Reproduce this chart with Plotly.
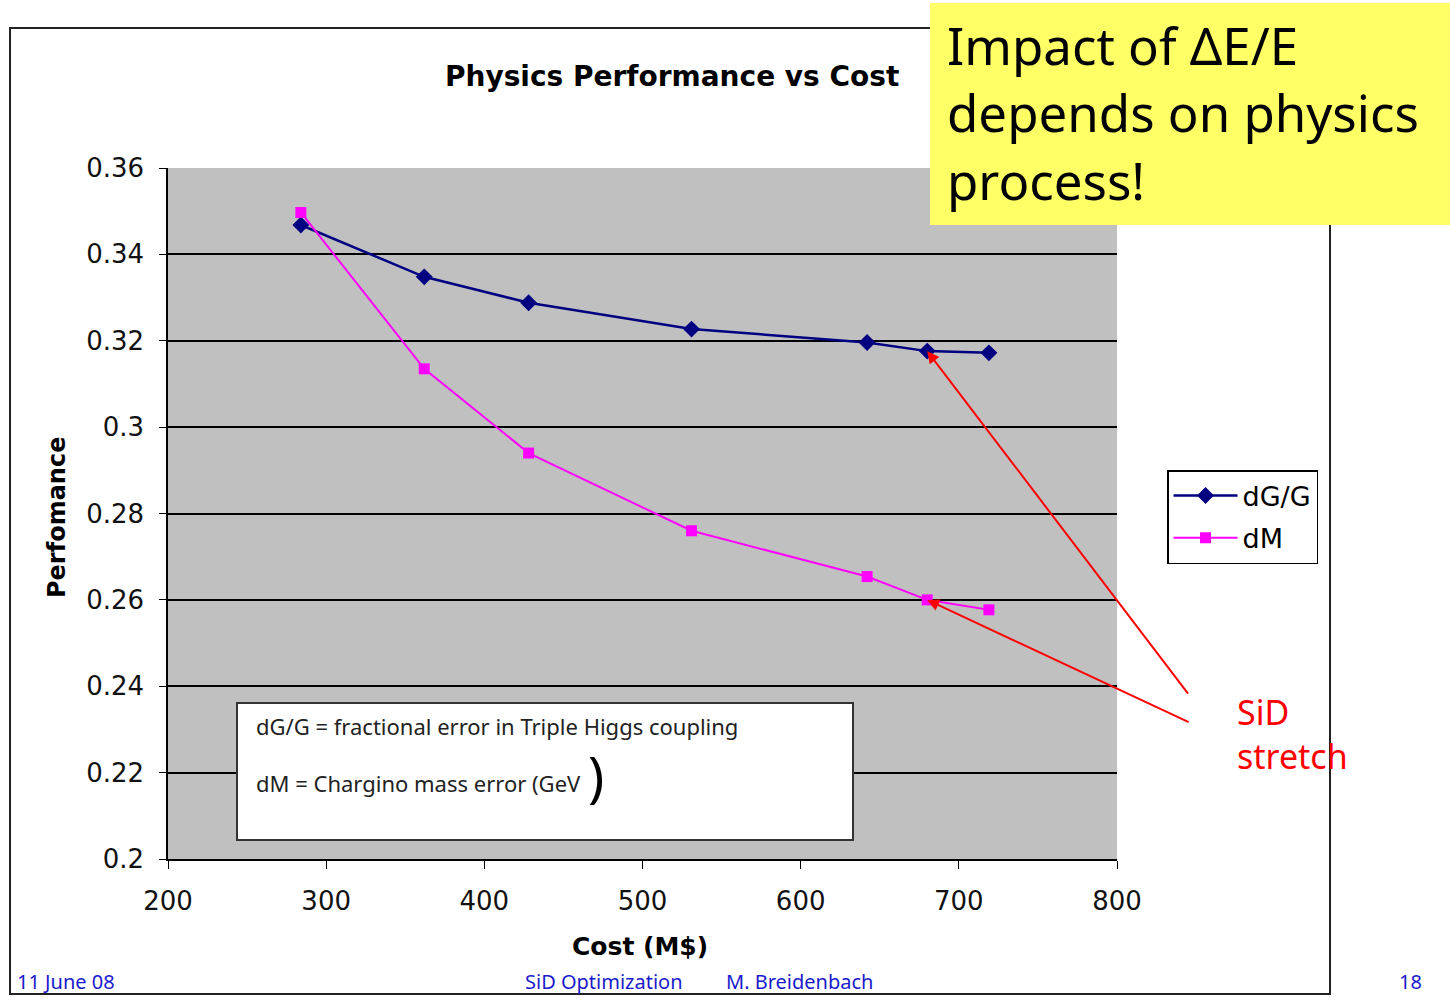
import plotly.graph_objects as go

# ---- data ----
cost = [284, 362, 428, 531, 642, 680, 719]
dG_G = [0.3468, 0.3348, 0.3288, 0.3227, 0.3196, 0.3176, 0.3172]
dM = [0.3497, 0.3135, 0.2940, 0.2760, 0.2654, 0.2600, 0.2577]
y_ticks = [0.2, 0.22, 0.24, 0.26, 0.28, 0.3, 0.32, 0.34, 0.36]
y_tick_text = ["0.2", "0.22", "0.24", "0.26", "0.28", "0.3", "0.32", "0.34", "0.36"]
x_ticks = [200, 300, 400, 500, 600, 700, 800]
x_tick_text = ["200", "300", "400", "500", "600", "700", "800"]
series_names = ["dG/G", "dM"]
stretch_index = 5  # SiD stretch point

W, H = 1450, 1001
L, R, T, B = 168, 333, 168, 142
PW, PH = W - L - R, H - T - B


def px(X):
    return (X - L) / PW


def py(Y):
    return (H - B - Y) / PH


FONT = "DejaVu Sans"
HAND = "Noto Sans"

fig = go.Figure()
fig.add_trace(go.Scatter(
    x=cost, y=dG_G, name=series_names[0], mode="lines+markers", legendgroup="a",
    line=dict(color="#000080", width=2.5),
    marker=dict(symbol="diamond", size=13, color="#000080"),
))
fig.add_trace(go.Scatter(
    x=cost, y=dM, name=series_names[1], mode="lines+markers", legendgroup="b",
    line=dict(color="#FF00FF", width=2),
    marker=dict(symbol="square", size=11, color="#FF00FF"),
))

shapes = [
    # outer chart frame
    dict(type="rect", xref="paper", yref="paper", x0=px(10), x1=px(1330),
         y0=py(994), y1=py(28), line=dict(color="#222222", width=2), layer="above"),
    # definition text box
    dict(type="rect", xref="paper", yref="paper", x0=px(237), x1=px(853),
         y0=py(840), y1=py(703), line=dict(color="#333333", width=2),
         fillcolor="white", layer="above"),
    # yellow callout
    dict(type="rect", xref="paper", yref="paper", x0=px(930), x1=px(1452),
         y0=py(225), y1=py(3), line=dict(width=0),
         fillcolor="#FFFF66", layer="above"),
]


def text(t, X, Y, size, color="black", family=HAND, xanchor="left", **kw):
    return dict(text=t, x=px(X), y=py(Y), xref="paper", yref="paper",
                showarrow=False, xanchor=xanchor, yanchor="middle",
                font=dict(family=family, size=size, color=color), **kw)


ann = []
ann.append(text("<b>Physics Performance vs Cost</b>", 672, 77, 28, family=FONT, xanchor="center"))
ann.append(text("<b>Cost (M$)</b>", 640, 947, 25, family=FONT, xanchor="center"))
ann.append(text("<b>Perfomance</b>", 57, 518, 24, family=FONT, xanchor="center", textangle=-90))
# text box contents
ann.append(text("dG/G = fractional error in Triple Higgs coupling", 254, 726, 22, color="#222222"))
ann.append(text("dM = Chargino mass error (GeV", 254, 783, 22, color="#222222"))
ann.append(text(")", 596, 775, 54, xanchor="center"))
# yellow callout text
for txt, yy in [("Impact of \u0394E/E", 45), ("depends on physics", 112), ("process!", 180)]:
    ann.append(text(txt, 945, yy, 51))
# SiD stretch label
ann.append(text("SiD<br>stretch", 1235, 734, 34, color="#FF0000", align="left"))
# red arrows pointing to the SiD stretch points
ann.append(dict(text="", x=cost[stretch_index], y=dG_G[stretch_index], xref="x", yref="y",
                showarrow=True, arrowhead=2, arrowsize=1.2, arrowwidth=2,
                arrowcolor="#FF0000", ax=262, ay=344))
ann.append(dict(text="", x=cost[stretch_index], y=dM[stretch_index], xref="x", yref="y",
                showarrow=True, arrowhead=2, arrowsize=1.2, arrowwidth=2,
                arrowcolor="#FF0000", ax=263, ay=123))
# footer
for txt, xx in [("11 June 08", 15), ("SiD Optimization", 523), ("M. Breidenbach", 724), ("18", 1397)]:
    ann.append(text(txt, xx, 981, 20, color="#1a1acc"))

fig.update_layout(
    width=W, height=H,
    margin=dict(l=L, r=R, t=T, b=B, autoexpand=False),
    paper_bgcolor="white",
    plot_bgcolor="#C0C0C0",
    shapes=shapes,
    annotations=ann,
    showlegend=True,
    legend=dict(x=px(1167), y=py(470), xanchor="left", yanchor="top",
                bgcolor="white", bordercolor="black", borderwidth=1.5,
                font=dict(family=FONT, size=27, color="black"),
                itemwidth=64, tracegroupgap=4),
    xaxis=dict(range=[200, 800], tickvals=x_ticks, ticktext=x_tick_text,
               showgrid=False, zeroline=False, showline=True, linecolor="black",
               linewidth=1.5, ticks="outside", ticklen=8, tickcolor="black",
               tickfont=dict(family=FONT, size=26, color="#111111"),
               ticklabelstandoff=10),
    yaxis=dict(range=[0.2, 0.36], tickvals=y_ticks, ticktext=y_tick_text,
               showgrid=True, gridcolor="black", gridwidth=1.5, zeroline=False,
               showline=True, linecolor="black", linewidth=1.5,
               ticks="outside", ticklen=7, tickcolor="black",
               tickfont=dict(family=FONT, size=26, color="#111111"),
               ticklabelstandoff=10),
)

fig.write_html("out.html")
